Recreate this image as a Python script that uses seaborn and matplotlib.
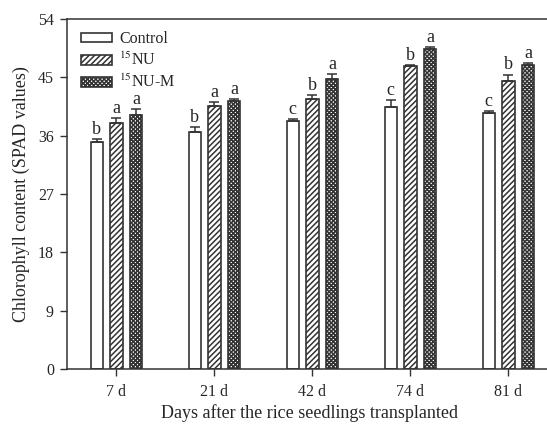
import numpy as np
import pandas as pd
import matplotlib
matplotlib.use("Agg")
import matplotlib.pyplot as plt
import seaborn as sns
from matplotlib.patches import Patch

days = ["7 d", "21 d", "42 d", "74 d", "81 d"]
treatments = ["Control", "15NU", "15NU-M"]
labels = ["Control", "$^{15}$NU", "$^{15}$NU-M"]

control = [35.0, 36.6, 38.3, 40.5, 39.5]
nu = [37.9, 40.6, 41.6, 46.7, 44.5]
nu_m = [39.2, 41.4, 44.8, 49.3, 46.9]

control_err = [0.5, 0.7, 0.3, 1.0, 0.3]
nu_err = [0.8, 0.6, 0.6, 0.2, 0.9]
nu_m_err = [0.9, 0.2, 0.7, 0.4, 0.3]

control_let = ["b", "b", "c", "c", "c"]
nu_let = ["a", "a", "b", "b", "b"]
nu_m_let = ["a", "a", "a", "a", "a"]

df = pd.DataFrame({
    "Day": days * 3,
    "Treatment": [t for t in treatments for _ in days],
    "SPAD": control + nu + nu_m,
})
errs = [control_err, nu_err, nu_m_err]
lets = [control_let, nu_let, nu_m_let]

sns.set_style("ticks")
plt.rcParams["font.family"] = ["Liberation Serif", "DejaVu Serif"]
plt.rcParams["mathtext.fontset"] = "stix"
plt.rcParams["hatch.linewidth"] = 1.1

fig = plt.figure(figsize=(5.47, 4.26), dpi=100)
ax = fig.add_axes([66.5 / 547, 1 - 369 / 426, 1 - 66.5 / 547 + 0.01, 350 / 426])

sns.barplot(data=df, x="Day", y="SPAD", hue="Treatment", order=days,
            hue_order=treatments, width=0.6, gap=0.36, errorbar=None,
            palette=["white", "white", "white"], edgecolor="#333333",
            linewidth=1.2, legend=False, ax=ax)

hatches = ["", "//////", "xxxxxxxx"]
for cont, h, e, lt in zip(ax.containers, hatches, errs, lets):
    xs, ys = [], []
    for p in cont.patches:
        p.set_hatch(h)
        xs.append(p.get_x() + p.get_width() / 2)
        ys.append(p.get_height())
    ax.errorbar(xs, ys, yerr=[np.zeros(len(e)), e], fmt="none",
                ecolor="#333333", elinewidth=1.1, capsize=3.3, capthick=1.1)
    for x, y, err, t in zip(xs, ys, e, lt):
        ax.text(x, y + err + 0.2, t, ha="center", va="bottom", fontsize=13)

ax.set_ylim(0, 54)
ax.set_yticks([0, 9, 18, 27, 36, 45, 54])
ax.set_xlim(-0.51, 4.45)
ax.set_xlabel("Days after the rice seedlings transplanted", fontsize=13, labelpad=3)
ax.set_ylabel("Chlorophyll content (SPAD values)", fontsize=13, labelpad=6)
ax.tick_params(axis="both", labelsize=11.5, length=5, width=1, color="#333333")
ax.tick_params(axis="x", pad=6)
ax.tick_params(axis="y", pad=4)
for s in ["left", "bottom", "top"]:
    ax.spines[s].set_linewidth(1.1)
    ax.spines[s].set_color("#333333")
ax.spines["right"].set_visible(False)

handles = [Patch(facecolor="white", edgecolor="#333333", hatch=h, linewidth=1.2)
           for h in hatches]
ax.legend(handles, labels, loc="upper left", frameon=False, fontsize=11.5,
          handlelength=1.95, handleheight=0.55, handletextpad=0.45,
          labelspacing=0.3, borderpad=0, borderaxespad=0,
          bbox_to_anchor=(0.03, 0.965))

fig.savefig("out.png", dpi=100)
